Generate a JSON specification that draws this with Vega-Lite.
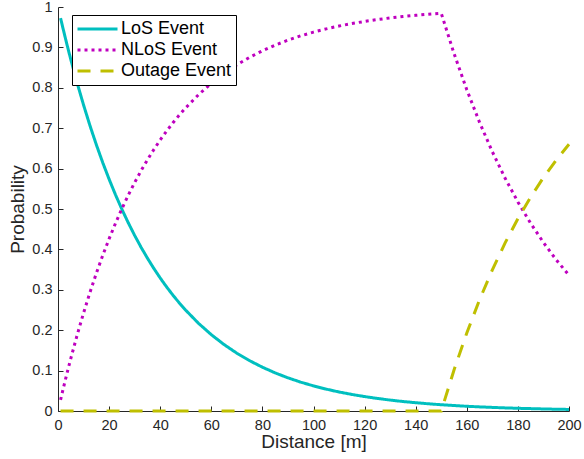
{
  "$schema": "https://vega.github.io/schema/vega-lite/v6.json",
  "autosize": {"type": "none"},
  "padding": {"left": 58, "top": 7, "right": 15, "bottom": 48},
  "width": 511,
  "height": 404,
  "config": {
    "view": {"stroke": null},
    "font": "Liberation Sans"
  },
  "data": {
    "values": [
      {"d": 1, "p": 0.9726, "event": "LoS Event"},
      {"d": 2, "p": 0.9460, "event": "LoS Event"},
      {"d": 3, "p": 0.9200, "event": "LoS Event"},
      {"d": 4, "p": 0.8948, "event": "LoS Event"},
      {"d": 5, "p": 0.8703, "event": "LoS Event"},
      {"d": 7.5, "p": 0.8119, "event": "LoS Event"},
      {"d": 10, "p": 0.7575, "event": "LoS Event"},
      {"d": 12.5, "p": 0.7066, "event": "LoS Event"},
      {"d": 15, "p": 0.6592, "event": "LoS Event"},
      {"d": 17.5, "p": 0.6150, "event": "LoS Event"},
      {"d": 20, "p": 0.5738, "event": "LoS Event"},
      {"d": 22.5, "p": 0.5353, "event": "LoS Event"},
      {"d": 25, "p": 0.4994, "event": "LoS Event"},
      {"d": 27.5, "p": 0.4659, "event": "LoS Event"},
      {"d": 30, "p": 0.4346, "event": "LoS Event"},
      {"d": 32.5, "p": 0.4054, "event": "LoS Event"},
      {"d": 35, "p": 0.3783, "event": "LoS Event"},
      {"d": 37.5, "p": 0.3529, "event": "LoS Event"},
      {"d": 40, "p": 0.3292, "event": "LoS Event"},
      {"d": 42.5, "p": 0.3071, "event": "LoS Event"},
      {"d": 45, "p": 0.2865, "event": "LoS Event"},
      {"d": 47.5, "p": 0.2673, "event": "LoS Event"},
      {"d": 50, "p": 0.2494, "event": "LoS Event"},
      {"d": 55, "p": 0.2170, "event": "LoS Event"},
      {"d": 60, "p": 0.1889, "event": "LoS Event"},
      {"d": 65, "p": 0.1644, "event": "LoS Event"},
      {"d": 70, "p": 0.1431, "event": "LoS Event"},
      {"d": 75, "p": 0.1245, "event": "LoS Event"},
      {"d": 80, "p": 0.1084, "event": "LoS Event"},
      {"d": 85, "p": 0.0943, "event": "LoS Event"},
      {"d": 90, "p": 0.0821, "event": "LoS Event"},
      {"d": 95, "p": 0.0714, "event": "LoS Event"},
      {"d": 100, "p": 0.0622, "event": "LoS Event"},
      {"d": 105, "p": 0.0541, "event": "LoS Event"},
      {"d": 110, "p": 0.0471, "event": "LoS Event"},
      {"d": 115, "p": 0.0410, "event": "LoS Event"},
      {"d": 120, "p": 0.0357, "event": "LoS Event"},
      {"d": 125, "p": 0.0311, "event": "LoS Event"},
      {"d": 130, "p": 0.0270, "event": "LoS Event"},
      {"d": 135, "p": 0.0235, "event": "LoS Event"},
      {"d": 140, "p": 0.0205, "event": "LoS Event"},
      {"d": 145, "p": 0.0178, "event": "LoS Event"},
      {"d": 150, "p": 0.0155, "event": "LoS Event"},
      {"d": 155, "p": 0.0135, "event": "LoS Event"},
      {"d": 160, "p": 0.0117, "event": "LoS Event"},
      {"d": 165, "p": 0.0102, "event": "LoS Event"},
      {"d": 170, "p": 0.0089, "event": "LoS Event"},
      {"d": 175, "p": 0.0077, "event": "LoS Event"},
      {"d": 180, "p": 0.0067, "event": "LoS Event"},
      {"d": 185, "p": 0.0059, "event": "LoS Event"},
      {"d": 190, "p": 0.0051, "event": "LoS Event"},
      {"d": 195, "p": 0.0044, "event": "LoS Event"},
      {"d": 200, "p": 0.0039, "event": "LoS Event"},

      {"d": 1, "p": 0.0274, "event": "NLoS Event"},
      {"d": 2, "p": 0.0540, "event": "NLoS Event"},
      {"d": 3, "p": 0.0800, "event": "NLoS Event"},
      {"d": 4, "p": 0.1052, "event": "NLoS Event"},
      {"d": 5, "p": 0.1297, "event": "NLoS Event"},
      {"d": 7.5, "p": 0.1881, "event": "NLoS Event"},
      {"d": 10, "p": 0.2425, "event": "NLoS Event"},
      {"d": 12.5, "p": 0.2934, "event": "NLoS Event"},
      {"d": 15, "p": 0.3408, "event": "NLoS Event"},
      {"d": 17.5, "p": 0.3850, "event": "NLoS Event"},
      {"d": 20, "p": 0.4262, "event": "NLoS Event"},
      {"d": 22.5, "p": 0.4647, "event": "NLoS Event"},
      {"d": 25, "p": 0.5006, "event": "NLoS Event"},
      {"d": 27.5, "p": 0.5341, "event": "NLoS Event"},
      {"d": 30, "p": 0.5654, "event": "NLoS Event"},
      {"d": 32.5, "p": 0.5946, "event": "NLoS Event"},
      {"d": 35, "p": 0.6217, "event": "NLoS Event"},
      {"d": 37.5, "p": 0.6471, "event": "NLoS Event"},
      {"d": 40, "p": 0.6708, "event": "NLoS Event"},
      {"d": 42.5, "p": 0.6929, "event": "NLoS Event"},
      {"d": 45, "p": 0.7135, "event": "NLoS Event"},
      {"d": 47.5, "p": 0.7327, "event": "NLoS Event"},
      {"d": 50, "p": 0.7506, "event": "NLoS Event"},
      {"d": 55, "p": 0.7830, "event": "NLoS Event"},
      {"d": 60, "p": 0.8111, "event": "NLoS Event"},
      {"d": 65, "p": 0.8356, "event": "NLoS Event"},
      {"d": 70, "p": 0.8569, "event": "NLoS Event"},
      {"d": 75, "p": 0.8755, "event": "NLoS Event"},
      {"d": 80, "p": 0.8916, "event": "NLoS Event"},
      {"d": 85, "p": 0.9057, "event": "NLoS Event"},
      {"d": 90, "p": 0.9179, "event": "NLoS Event"},
      {"d": 95, "p": 0.9286, "event": "NLoS Event"},
      {"d": 100, "p": 0.9378, "event": "NLoS Event"},
      {"d": 105, "p": 0.9459, "event": "NLoS Event"},
      {"d": 110, "p": 0.9529, "event": "NLoS Event"},
      {"d": 115, "p": 0.9590, "event": "NLoS Event"},
      {"d": 120, "p": 0.9643, "event": "NLoS Event"},
      {"d": 125, "p": 0.9689, "event": "NLoS Event"},
      {"d": 130, "p": 0.9730, "event": "NLoS Event"},
      {"d": 135, "p": 0.9765, "event": "NLoS Event"},
      {"d": 140, "p": 0.9795, "event": "NLoS Event"},
      {"d": 145, "p": 0.9822, "event": "NLoS Event"},
      {"d": 150, "p": 0.9845, "event": "NLoS Event"},
      {"d": 155, "p": 0.8849, "event": "NLoS Event"},
      {"d": 160, "p": 0.7952, "event": "NLoS Event"},
      {"d": 165, "p": 0.7143, "event": "NLoS Event"},
      {"d": 170, "p": 0.6416, "event": "NLoS Event"},
      {"d": 175, "p": 0.5762, "event": "NLoS Event"},
      {"d": 180, "p": 0.5174, "event": "NLoS Event"},
      {"d": 185, "p": 0.4645, "event": "NLoS Event"},
      {"d": 190, "p": 0.4170, "event": "NLoS Event"},
      {"d": 195, "p": 0.3743, "event": "NLoS Event"},
      {"d": 200, "p": 0.3359, "event": "NLoS Event"},

      {"d": 1, "p": 0, "event": "Outage Event"},
      {"d": 150, "p": 0, "event": "Outage Event"},
      {"d": 155, "p": 0.1016, "event": "Outage Event"},
      {"d": 160, "p": 0.1931, "event": "Outage Event"},
      {"d": 165, "p": 0.2755, "event": "Outage Event"},
      {"d": 170, "p": 0.3495, "event": "Outage Event"},
      {"d": 175, "p": 0.4161, "event": "Outage Event"},
      {"d": 180, "p": 0.4759, "event": "Outage Event"},
      {"d": 185, "p": 0.5296, "event": "Outage Event"},
      {"d": 190, "p": 0.5779, "event": "Outage Event"},
      {"d": 195, "p": 0.6213, "event": "Outage Event"},
      {"d": 200, "p": 0.6602, "event": "Outage Event"}
    ]
  },
  "mark": {"type": "line", "strokeWidth": 3, "strokeCap": "butt"},
  "encoding": {
    "x": {
      "field": "d", "type": "quantitative",
      "scale": {"domain": [0, 200], "nice": false, "zero": false},
      "axis": {
        "title": "Distance [m]", "values": [0,20,40,60,80,100,120,140,160,180,200],
        "grid": false, "tickSize": -5, "labelPadding": 12, "labelFlush": false, "labelOverlap": false,
        "domainColor": "#262626", "tickColor": "#262626", "labelColor": "#262626",
        "titleColor": "#262626", "labelFontSize": 14.5, "titleFontSize": 19, "titleFontWeight": "normal",
        "titlePadding": 1, "labelFont": "Liberation Sans", "titleFont": "Liberation Sans"
      }
    },
    "y": {
      "field": "p", "type": "quantitative",
      "scale": {"domain": [0, 1], "nice": false},
      "axis": {
        "title": "Probability", "values": [0,0.1,0.2,0.3,0.4,0.5,0.6,0.7,0.8,0.9,1], "format": "~g",
        "grid": false, "tickSize": -5, "labelPadding": 11, "labelFlush": false, "labelOverlap": false,
        "domainColor": "#262626", "tickColor": "#262626", "labelColor": "#262626",
        "titleColor": "#262626", "labelFontSize": 14.5, "titleFontSize": 19, "titleFontWeight": "normal",
        "titlePadding": 4, "labelFont": "Liberation Sans", "titleFont": "Liberation Sans"
      }
    },
    "color": {
      "field": "event", "type": "nominal",
      "scale": {"domain": ["LoS Event", "NLoS Event", "Outage Event"], "range": ["#00BFBF", "#BF00BF", "#BFBF00"]},
      "legend": {
        "title": null, "orient": "none", "legendX": 14, "legendY": 8,
        "symbolType": "stroke", "symbolSize": 1600, "symbolStrokeWidth": 3,
        "labelFontSize": 18, "labelFont": "Liberation Sans", "labelColor": "#000000", "labelOffset": 2,
        "clipHeight": 20, "rowPadding": 1,
        "padding": 4, "strokeColor": "#000000", "fillColor": "#ffffff", "cornerRadius": 0
      }
    },
    "strokeDash": {
      "field": "event", "type": "nominal",
      "scale": {"domain": ["LoS Event", "NLoS Event", "Outage Event"], "range": [[1, 0], [3, 4], [13, 10]]},
      "legend": null
    }
  }
}
